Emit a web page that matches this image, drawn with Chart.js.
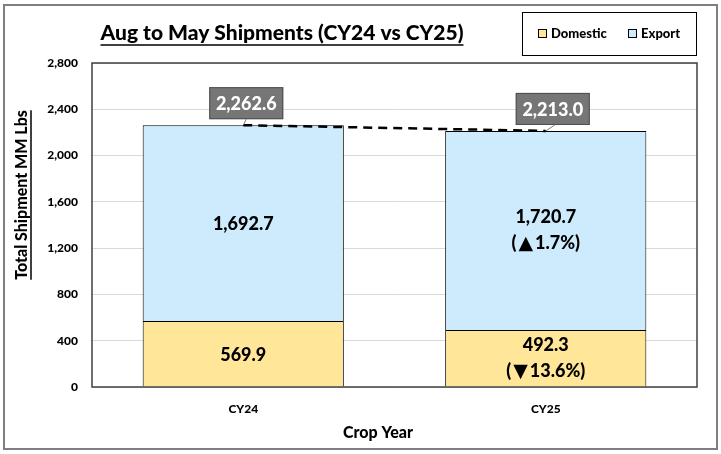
<!DOCTYPE html>
<html>
<head>
<meta charset="utf-8">
<script src="https://cdn.jsdelivr.net/npm/chart.js@4.4.1/dist/chart.umd.min.js"></script>
<style>
  html, body { margin: 0; padding: 0; background: #ffffff; }
  canvas { display: block; }
</style>
</head>
<body>
<canvas id="chart" width="721" height="454"></canvas>
<script>
const FONT = 'Lato, "Open Sans", sans-serif';
const HEAVY = '900';

// values
const cropYears = ['CY24', 'CY25'];
const domestic = [569.9, 492.3];
const exportLbs = [1692.7, 1720.7];
const totals = [2262.6, 2213.0];
const yTicks = [0, 400, 800, 1200, 1600, 2000, 2400, 2800];

const DOMESTIC_COLOR = '#FFE699';
const EXPORT_COLOR = '#CDEBFC';

function fmt(v) {
    return v.toLocaleString('en-US', { minimumFractionDigits: 1, maximumFractionDigits: 1 });
}

// change vs previous year, split so the arrow can use a font that has a full size triangle
function changeParts(arr, i) {
    if (i === 0) return null;
    const pct = (arr[i] - arr[i - 1]) / arr[i - 1] * 100;
    const arrow = pct >= 0 ? '\u25B2' : '\u25BC';
    return ['(', arrow, Math.abs(pct).toFixed(1) + '%)'];
}

function drawChange(ctx, parts, cx, cy) {
    const textFont = HEAVY + ' 18px ' + FONT;
    const arrowFont = 'bold 19px "DejaVu Sans"';
    ctx.font = textFont;
    const w0 = ctx.measureText(parts[0]).width + 2;
    const w2 = ctx.measureText(parts[2]).width;
    ctx.font = arrowFont;
    const w1 = ctx.measureText(parts[1]).width + 2;
    let x = cx - (w0 + w1 + w2) / 2;
    ctx.textAlign = 'left';
    ctx.font = textFont;
    ctx.fillText(parts[0], x, cy);
    x += w0;
    ctx.font = arrowFont;
    ctx.fillText(parts[1], x, cy + 1);
    x += w1;
    ctx.font = textFont;
    ctx.fillText(parts[2], x, cy);
    ctx.textAlign = 'center';
}

// frame, title, legend and axis titles
const decorations = {
    id: 'decorations',
    beforeDraw: (chart) => {
        const ctx = chart.ctx;
        ctx.save();
        ctx.fillStyle = '#ffffff';
        ctx.fillRect(0, 0, chart.width, chart.height);
        ctx.restore();
    },
    afterDraw: (chart) => {
        const { ctx, chartArea } = chart;
        ctx.save();

        // outer frame
        ctx.strokeStyle = '#7f7f7f';
        ctx.lineWidth = 2;
        ctx.strokeRect(4, 5, 713, 444);

        // plot frame
        ctx.strokeStyle = '#404040';
        ctx.lineWidth = 1.5;
        ctx.strokeRect(chartArea.left, chartArea.top, chartArea.right - chartArea.left, chartArea.bottom - chartArea.top);

        // title, underlined
        ctx.fillStyle = '#000000';
        ctx.font = HEAVY + ' 21px ' + FONT;
        ctx.textAlign = 'center';
        ctx.textBaseline = 'middle';
        const title = 'Aug to May Shipments (CY24 vs CY25)';
        ctx.fillText(title, 282, 33);
        const tw = ctx.measureText(title).width;
        ctx.lineWidth = 1.5;
        ctx.strokeStyle = '#000000';
        ctx.beginPath();
        ctx.moveTo(282 - tw / 2, 45);
        ctx.lineTo(282 + tw / 2, 45);
        ctx.stroke();

        // legend box
        ctx.lineWidth = 1;
        ctx.strokeStyle = '#000000';
        ctx.strokeRect(522.5, 12.5, 174, 43);
        ctx.font = HEAVY + ' 13px ' + FONT;
        ctx.textAlign = 'left';
        const items = [['Domestic', DOMESTIC_COLOR, 538], ['Export', EXPORT_COLOR, 628]];
        items.forEach(([label, color, x]) => {
            ctx.fillStyle = color;
            ctx.fillRect(x, 29, 8, 8);
            ctx.strokeStyle = '#000000';
            ctx.strokeRect(x + 0.5, 29.5, 8, 8);
            ctx.fillStyle = '#000000';
            ctx.fillText(label, x + 13, 33.5);
        });

        // y axis title, rotated and underlined
        ctx.save();
        ctx.translate(22, 195);
        ctx.rotate(-Math.PI / 2);
        ctx.font = HEAVY + ' 16px ' + FONT;
        ctx.textAlign = 'center';
        ctx.fillStyle = '#000000';
        const yt = 'Total Shipment MM Lbs';
        ctx.fillText(yt, 0, 0);
        const yw = ctx.measureText(yt).width;
        ctx.beginPath();
        ctx.lineWidth = 1.5;
        ctx.moveTo(-yw / 2, 9);
        ctx.lineTo(yw / 2, 9);
        ctx.stroke();
        ctx.restore();

        // x axis title
        ctx.font = HEAVY + ' 16px ' + FONT;
        ctx.textAlign = 'center';
        ctx.fillStyle = '#000000';
        ctx.fillText('Crop Year', 378, 433);

        ctx.restore();
    }
};

// values inside the bars and total boxes
const valueLabels = {
    id: 'valueLabels',
    afterDatasetsDraw: (chart) => {
        const { ctx } = chart;
        ctx.save();
        ctx.textAlign = 'center';
        ctx.textBaseline = 'middle';

        [1, 2].forEach((dsIndex) => {
            const ds = chart.data.datasets[dsIndex];
            const meta = chart.getDatasetMeta(dsIndex);
            meta.data.forEach((bar, i) => {
                const cx = bar.x;
                const cy = (bar.y + bar.base) / 2;
                const main = fmt(ds.data[i]);
                const parts = changeParts(ds.data, i);
                ctx.font = HEAVY + ' 18px ' + FONT;
                ctx.fillStyle = '#000000';
                if (parts) {
                    ctx.fillText(main, cx, cy - 13);
                    drawChange(ctx, parts, cx, cy + 13);
                } else {
                    ctx.fillText(main, cx, cy + 1);
                }
            });
        });

        // totals in grey boxes
        const lineMeta = chart.getDatasetMeta(0);
        lineMeta.data.forEach((pt, i) => {
            const bx = pt.x + 3 + i * 4;
            const by = pt.y - 22;
            const w = 74, h = 32;
            ctx.strokeStyle = '#7f7f7f';
            ctx.lineWidth = 1;
            ctx.beginPath();
            ctx.moveTo(bx + (i ? 2 : 0), by + h / 2);
            ctx.lineTo(pt.x, pt.y);
            ctx.stroke();
            ctx.fillStyle = '#767676';
            ctx.fillRect(bx - w / 2, by - h / 2, w, h);
            ctx.strokeStyle = '#4d4d4d';
            ctx.strokeRect(bx - w / 2 + 0.5, by - h / 2 + 0.5, w - 1, h - 1);
            ctx.fillStyle = '#ffffff';
            ctx.font = HEAVY + ' 18px ' + FONT;
            ctx.fillText(fmt(totals[i]), bx, by + 1);
        });

        ctx.restore();
    }
};

const config = {
    type: 'bar',
    data: {
        labels: cropYears,
        datasets: [
            {
                type: 'line',
                label: 'Total',
                data: totals,
                stack: 'total',
                order: 0,
                borderColor: '#000000',
                borderWidth: 2.5,
                borderDash: [9, 6],
                pointRadius: 0,
                fill: false
            },
            {
                label: 'Domestic',
                data: domestic,
                stack: 'ship',
                order: 1,
                backgroundColor: DOMESTIC_COLOR,
                borderColor: '#000000',
                borderWidth: 1,
                barPercentage: 0.665,
                categoryPercentage: 1.0
            },
            {
                label: 'Export',
                data: exportLbs,
                stack: 'ship',
                order: 1,
                backgroundColor: EXPORT_COLOR,
                borderColor: '#000000',
                borderWidth: 1,
                barPercentage: 0.665,
                categoryPercentage: 1.0
            }
        ]
    },
    options: {
        responsive: false,
        animation: false,
        layout: { padding: { top: 63, right: 24, left: 0, bottom: 0 } },
        plugins: {
            legend: { display: false },
            title: { display: false },
            tooltip: { enabled: false }
        },
        scales: {
            x: {
                stacked: true,
                grid: { display: false, drawTicks: false },
                border: { display: false },
                ticks: { color: '#000000', font: { family: FONT, size: 12, weight: HEAVY }, padding: 15 },
                afterFit: (s) => { s.height = 67; }
            },
            y: {
                stacked: true,
                min: 0,
                max: 2800,
                afterBuildTicks: (s) => { s.ticks = yTicks.map(v => ({ value: v })); },
                grid: { color: '#d9d9d9', drawTicks: false },
                border: { display: false },
                ticks: {
                    color: '#000000',
                    font: { family: FONT, size: 12, weight: HEAVY },
                    padding: 14,
                    callback: (v) => v.toLocaleString('en-US')
                },
                afterFit: (s) => { s.width = 92; }
            }
        }
    },
    plugins: [decorations, valueLabels]
};

const chart = new Chart(document.getElementById('chart'), config);
</script>
</body>
</html>
